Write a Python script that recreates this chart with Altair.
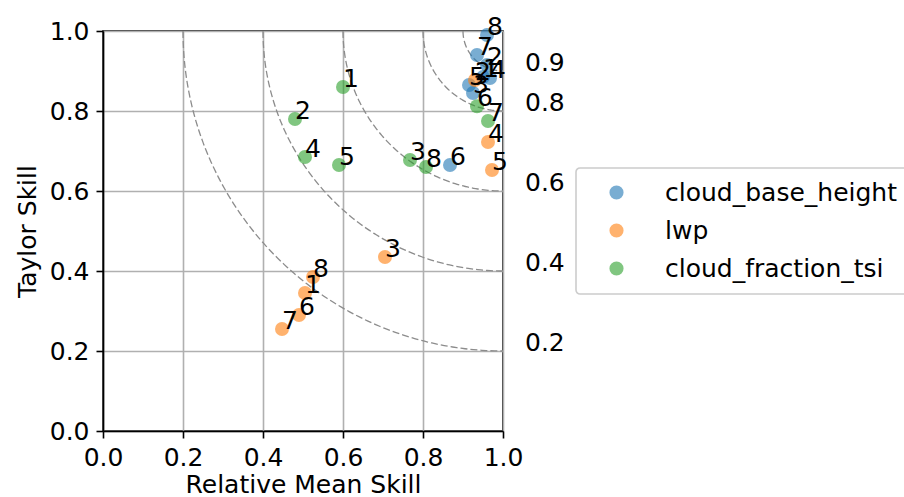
import altair as alt
import pandas as pd
import numpy as np

series = ["cloud_base_height", "lwp", "cloud_fraction_tsi"]
colors = ["#1f77b4", "#ff7f0e", "#2ca02c"]
point_labels = ["1", "2", "3", "4", "5", "6", "7", "8"]

cbh_x = [0.95, 0.96, 0.925, 0.9675, 0.915, 0.8675, 0.935, 0.96]
cbh_y = [0.885, 0.915, 0.845, 0.8825, 0.865, 0.665, 0.94, 0.99]
lwp_x = [0.505, 0.93, 0.705, 0.9625, 0.9725, 0.49, 0.4475, 0.525]
lwp_y = [0.345, 0.8775, 0.435, 0.7225, 0.6525, 0.29, 0.255, 0.385]
cft_x = [0.60, 0.48, 0.7675, 0.505, 0.59, 0.935, 0.9625, 0.8075]
cft_y = [0.86, 0.78, 0.6775, 0.685, 0.665, 0.812, 0.775, 0.66]

levels = [0.2, 0.4, 0.6, 0.8, 0.9]
level_text = ["0.2", "0.4", "0.6", "0.8", "0.9"]
ticks = [0.0, 0.2, 0.4, 0.6, 0.8, 1.0]

FONT = "DejaVu Sans"
FS = 25

pts = pd.DataFrame({
    "series": [series[0]] * 8 + [series[1]] * 8 + [series[2]] * 8,
    "x": cbh_x + lwp_x + cft_x,
    "y": cbh_y + lwp_y + cft_y,
    "label": point_labels * 3,
})

# skill contours: circles of radius (1 - level) centred at (1, 1)
rows = []
for lv in levels:
    r = 1.0 - lv
    for t in np.linspace(np.pi, 1.5 * np.pi, 120):
        rows.append({"level": lv, "x": 1.0 + r * np.cos(t), "y": 1.0 + r * np.sin(t)})
arcs = pd.DataFrame(rows)

lev = pd.DataFrame({"level": levels, "text": level_text})

xscale = alt.Scale(domain=[0, 1], nice=False, zero=False)
yscale = alt.Scale(domain=[0, 1], nice=False, zero=False)
xaxis = alt.Axis(values=ticks, format=".1f", title="Relative Mean Skill", grid=True,
                 titlePadding=2)
yaxis = alt.Axis(values=ticks, format=".1f", title="Taylor Skill", grid=True,
                 titlePadding=9)

X = lambda f: alt.X(f, type="quantitative", scale=xscale, axis=xaxis)
Y = lambda f: alt.Y(f, type="quantitative", scale=yscale, axis=yaxis)

arc_layer = alt.Chart(arcs).mark_line(
    color="#8c8c8c", strokeWidth=1.3, strokeDash=[7, 3]
).encode(x=X("x"), y=Y("y"), detail="level:N", order="x:Q")

point_layer = alt.Chart(pts).mark_circle(size=195, opacity=0.6).encode(
    x=X("x"), y=Y("y"),
    color=alt.Color("series:N",
                    scale=alt.Scale(domain=series, range=colors),
                    sort=series,
                    legend=alt.Legend(title=None, orient="none", legendX=473, legendY=137,
                                      direction="vertical")),
)

text_layer = alt.Chart(pts).mark_text(
    align="left", baseline="alphabetic", fontSize=FS, font=FONT, color="black"
).encode(x=X("x"), y=Y("y"), text="label:N")

level_layer = alt.Chart(lev).transform_calculate(lx="1.055").mark_text(
    align="left", baseline="alphabetic", fontSize=FS, font=FONT, color="black"
).encode(x=X("lx"), y=Y("level"), text="text:N")

chart = alt.layer(arc_layer, point_layer, text_layer, level_layer).properties(
    width=400, height=400,
    autosize=alt.AutoSizeParams(type="none"),
    padding={"left": 103, "top": 31, "right": 401, "bottom": 66},
).configure_view(
    stroke="black", strokeWidth=1.6
).configure_axis(
    labelFont=FONT, labelFontSize=FS, labelColor="black", labelPadding=7,
    labelFlush=False, labelOverlap=False,
    tickSize=7, tickWidth=1.6, tickColor="black",
    domainColor="black", domainWidth=1.6,
    gridColor="#b0b0b0", gridWidth=1.6,
    titleFont=FONT, titleFontSize=FS, titleFontWeight="normal", titleColor="black",
).configure_legend(
    labelFont=FONT, labelFontSize=FS, labelColor="black", labelLimit=1000,
    symbolType="circle", symbolSize=200, symbolOpacity=0.6, symbolStrokeWidth=0,
    padding=12, symbolOffset=16, labelOffset=36, rowPadding=12,
    fillColor="white", strokeColor="#cccccc", strokeWidth=1.6, cornerRadius=4,
)

chart.save("out.html", embed_options={"renderer": "svg", "actions": False})
